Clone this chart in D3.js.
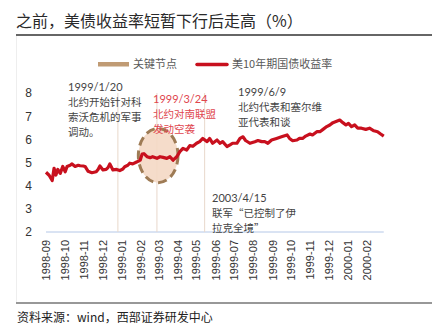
<!DOCTYPE html>
<html lang="zh">
<head>
<meta charset="utf-8">
<title>美债收益率</title>
<script src="https://cdn.jsdelivr.net/npm/d3@7"></script>
<style>
  body { margin: 0; background: #fff; }
  svg { display: block; }
  .title { font-family: "Noto Sans CJK SC", sans-serif; font-size: 16px; fill: #2a2a2a; }
  .source { font-family: "Noto Sans CJK SC", sans-serif; font-size: 12px; fill: #222; }
  .legend text { font-family: "Noto Sans CJK SC", sans-serif; font-size: 11px; fill: #595959; }
  .tick text { font-family: "Liberation Sans", Arial, sans-serif; fill: #333; }
  .note { font-family: "Noto Sans CJK SC", sans-serif; font-size: 10.5px; fill: #444; }
  .note .num { font-family: Lato, "Liberation Sans", sans-serif; font-size: 11px; }
</style>
</head>
<body>
<script>
// 美10年期国债收益率 (%), 1998-09 ~ 2000-02
var dates = [
  '1998-09-01','1998-09-06','1998-09-11','1998-09-14','1998-09-17','1998-09-20','1998-09-24','1998-09-28',
  '1998-10-02','1998-10-05','1998-10-10','1998-10-13','1998-10-18','1998-10-23','1998-10-26','1998-10-31',
  '1998-11-03','1998-11-08','1998-11-14','1998-11-21','1998-11-24','1998-11-27',
  '1998-12-02','1998-12-07','1998-12-10','1998-12-13','1998-12-18','1998-12-24','1998-12-29',
  '1999-01-03','1999-01-06','1999-01-11','1999-01-14','1999-01-19','1999-01-26','1999-01-31',
  '1999-02-03','1999-02-06','1999-02-11','1999-02-16','1999-02-20','1999-02-27',
  '1999-03-04','1999-03-09','1999-03-15','1999-03-20','1999-03-25','1999-03-31',
  '1999-04-05','1999-04-10','1999-04-16','1999-04-21','1999-04-26',
  '1999-05-02','1999-05-07','1999-05-12','1999-05-19','1999-05-23','1999-05-28',
  '1999-06-04','1999-06-09','1999-06-13','1999-06-20','1999-06-25','1999-06-29',
  '1999-07-06','1999-07-11','1999-07-16','1999-07-20','1999-07-27',
  '1999-08-04','1999-08-09','1999-08-15','1999-08-20','1999-08-25','1999-08-31',
  '1999-09-08','1999-09-16','1999-09-25','1999-09-29',
  '1999-10-04','1999-10-11','1999-10-15','1999-10-20','1999-10-25',
  '1999-11-01','1999-11-05','1999-11-12','1999-11-17','1999-11-22','1999-11-28',
  '1999-12-03','1999-12-08','1999-12-12','1999-12-19','1999-12-24','1999-12-29',
  '2000-01-02','2000-01-07','2000-01-12','2000-01-17','2000-01-23','2000-01-30',
  '2000-02-05','2000-02-12','2000-02-18','2000-02-23','2000-02-28'
];
var yields = [
  4.58, 4.45, 4.22, 4.75, 4.46, 4.70, 4.53, 4.83,
  4.60, 4.83, 4.88, 4.94, 4.83, 4.88, 4.86, 4.85,
  4.83, 4.62, 4.56, 4.60, 4.70, 4.85,
  4.68, 4.70, 4.78, 4.94, 4.68, 4.70, 4.65,
  4.72, 4.82, 4.88, 4.97, 4.94, 5.03, 5.10,
  5.36, 5.38, 5.25, 5.21, 5.25, 5.18,
  5.25, 5.22, 5.18, 5.25, 5.10, 5.25,
  5.47, 5.61, 5.54, 5.73, 5.70,
  5.83, 5.90, 6.04, 5.90, 6.04, 5.83,
  5.97, 5.83, 5.90, 5.69, 5.76, 5.83,
  5.83, 6.04, 6.11, 5.95, 5.83,
  5.90, 5.95, 5.90, 5.90, 5.83, 5.97,
  6.04, 6.11, 6.19, 6.04,
  5.94, 5.97, 6.04, 6.04, 6.14,
  6.23, 6.19, 6.33, 6.33, 6.43, 6.55,
  6.62, 6.72, 6.76, 6.83, 6.72, 6.62,
  6.69, 6.55, 6.62, 6.48, 6.48, 6.43,
  6.48, 6.37, 6.33, 6.23, 6.14
];

// 关键节点 (竖线位置)
var nodeDates = ['1998-12-26', '1999-02-27', '1999-05-15'];
// 空袭前后的区间 (椭圆)
var eventCenter = { date: '1999-03-01', value: 5.3, halfDays: 32, halfValue: 1.17 };

var yTicks = [2, 3, 4, 5, 6, 7, 8];

var notes = [
  { x: 68,  y: 91,  color: '#444',    lines: ['1999/1/20', '北约开始针对科', '索沃危机的军事', '调动。'] },
  { x: 153, y: 103, color: '#E0464E', lines: ['1999/3/24', '北约对南联盟', '发动空袭'] },
  { x: 238, y: 96,  color: '#444',    lines: ['1999/6/9', '北约代表和塞尔维', '亚代表和谈'] },
  { x: 212, y: 202, color: '#444',    lines: ['2003/4/15', '联军“已控制了伊', '拉克全境”'] }
];

var W = 444, H = 335;
var parse = d3.timeParse('%Y-%m-%d');
var series = dates.map(function(d, i) { return { date: parse(d), value: yields[i] }; });

var svg = d3.select('body').append('svg').attr('width', W).attr('height', H);

// title and rules
svg.append('text').attr('class', 'title').attr('x', 16).attr('y', 27)
  .text('之前，美债收益率短暂下行后走高（%）');
svg.append('line').attr('x1', 16).attr('x2', 432).attr('y1', 35).attr('y2', 35)
  .attr('stroke', '#333').attr('stroke-width', 1.5);
svg.append('line').attr('x1', 16.5).attr('x2', 16.5).attr('y1', 36).attr('y2', 302)
  .attr('stroke', '#eee');
svg.append('line').attr('x1', 16).attr('x2', 432).attr('y1', 303).attr('y2', 303)
  .attr('stroke', '#333').attr('stroke-width', 1.2);
svg.append('text').attr('class', 'source').attr('x', 17).attr('y', 322)
  .text('资料来源：wind，西部证券研发中心');

var x = d3.scaleTime()
  .domain([parse('1998-09-01'), parse('2000-03-01')])
  .range([46, 385]);
var y = d3.scaleLinear().domain([2, 8]).range([232, 93]);

// y axis labels
var yAxis = svg.append('g').attr('transform', 'translate(34,0)')
  .call(d3.axisLeft(y).tickValues(yTicks).tickSize(0).tickPadding(2).tickFormat(d3.format('d')));
yAxis.select('.domain').remove();
yAxis.selectAll('text').style('font-size', '12px');

// x axis: rotated month labels
var xAxis = svg.append('g').attr('transform', 'translate(0,232)')
  .call(d3.axisBottom(x).ticks(d3.timeMonth.every(1)).tickSize(0).tickFormat(d3.timeFormat('%Y-%m')));
xAxis.select('.domain').attr('stroke', '#B4C7E7').attr('d', 'M' + x.range()[0] + ',0H' + x(series[series.length - 1].date));
xAxis.selectAll('.tick')
  .filter(function(d) { return d >= parse('2000-03-01'); }).remove();
xAxis.selectAll('text')
  .style('font-size', '11px')
  .attr('text-anchor', 'end')
  .attr('transform', 'rotate(-90)')
  .attr('x', -8).attr('y', 0).attr('dy', '0.35em');

// key node verticals
svg.selectAll('.node-line').data(nodeDates).enter().append('line')
  .attr('class', 'node-line')
  .attr('x1', function(d) { return x(parse(d)); })
  .attr('x2', function(d) { return x(parse(d)); })
  .attr('y1', y(8)).attr('y2', y(2))
  .attr('stroke', '#E8D8CB').attr('stroke-width', 1);

// highlighted event window
var ec = parse(eventCenter.date);
svg.append('ellipse')
  .attr('cx', x(ec))
  .attr('cy', y(eventCenter.value))
  .attr('rx', x(d3.timeDay.offset(ec, eventCenter.halfDays)) - x(ec))
  .attr('ry', y(eventCenter.value - eventCenter.halfValue) - y(eventCenter.value))
  .attr('fill', '#F4D8C4').attr('fill-opacity', 0.9)
  .attr('stroke', '#9E7B55').attr('stroke-width', 3)
  .attr('stroke-dasharray', '9,5');

// yield line
svg.append('path').datum(series)
  .attr('fill', 'none').attr('stroke', '#C8101E').attr('stroke-width', 3.2)
  .attr('stroke-linejoin', 'round')
  .attr('d', d3.line().x(function(d) { return x(d.date); }).y(function(d) { return y(d.value); }));

// legend
var legend = svg.append('g').attr('class', 'legend');
legend.append('rect').attr('x', 98).attr('y', 62).attr('width', 31).attr('height', 4.5).attr('fill', '#C09B74');
legend.append('text').attr('x', 133).attr('y', 68).text('关键节点');
legend.append('line').attr('x1', 197).attr('x2', 227).attr('y1', 64.5).attr('y2', 64.5)
  .attr('stroke', '#C8101E').attr('stroke-width', 3.5).attr('stroke-linecap', 'round');
legend.append('text').attr('x', 232).attr('y', 68).text('美10年期国债收益率');

// annotations: first line is the date, the rest are CJK lines
notes.forEach(function(n) {
  var t = svg.append('text').attr('class', 'note').attr('x', n.x).attr('y', n.y).style('fill', n.color);
  n.lines.forEach(function(s, i) {
    t.append('tspan').attr('x', n.x).attr('dy', i === 0 ? 0 : (i === 1 ? 14.5 : 15.3))
      .attr('class', i === 0 ? 'num' : null).text(s);
  });
});
</script>
</body>
</html>
